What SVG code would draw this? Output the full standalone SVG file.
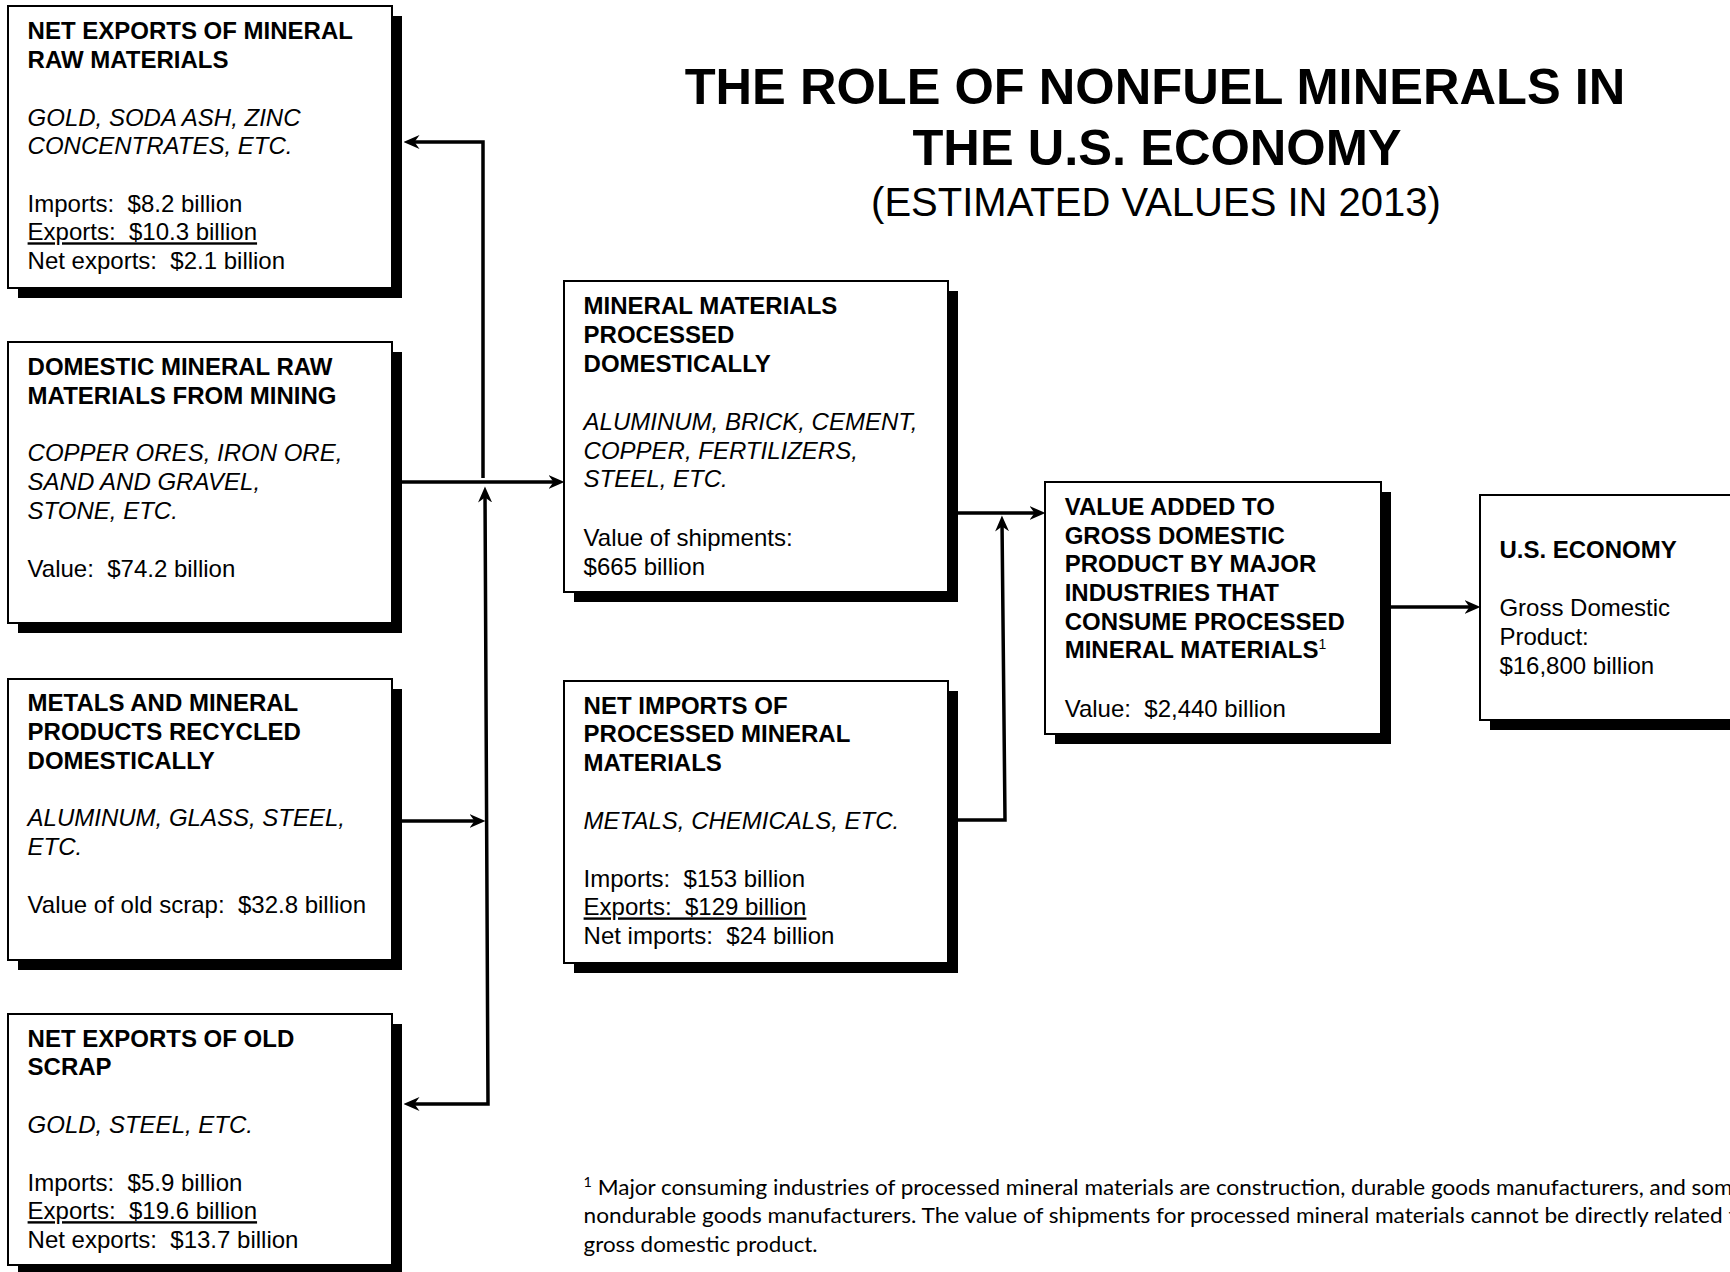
<svg xmlns="http://www.w3.org/2000/svg" width="1730" height="1272" viewBox="0 0 1730 1272">
<style>
  text { font-family: "Liberation Sans", Arial, sans-serif; font-size: 24px; fill: #000; white-space: pre; }
  .b { font-weight: bold; }
  .i { font-style: italic; }
  .u { text-decoration: underline; }
  .title { font-size: 50.6px; font-weight: bold; text-anchor: middle; }
  .sub { font-size: 40px; text-anchor: middle; }
  .sup { font-size: 14px; font-weight: normal; }
  .fn { font-family: Lato, "Noto Sans", sans-serif; font-size: 22px; }
  .shadow { fill: #000; }
  .box { fill: #fff; stroke: #000; stroke-width: 2; }
  .conn { fill: none; stroke: #000; stroke-width: 3.5; stroke-linejoin: miter; }
</style>
<defs>
  <marker id="ah" viewBox="0 0 16 14" refX="10.5" refY="7" markerWidth="16" markerHeight="14" markerUnits="userSpaceOnUse" orient="auto-start-reverse">
    <path d="M0,0 L16,7 L0,14 L5,7 z" fill="#000"/>
  </marker>
</defs>
<rect width="1730" height="1272" fill="#fff"/>

<g id="title">
  <text class="title" x="1155" y="104">THE ROLE OF NONFUEL MINERALS IN</text>
  <text class="title" x="1157" y="165">THE U.S. ECONOMY</text>
  <text class="sub" x="1156" y="216">(ESTIMATED VALUES IN 2013)</text>
</g>

<g id="connectors">
  <path class="conn" d="M402,482 H559" marker-end="url(#ah)"/>
  <path class="conn" d="M483,478 V142 H409" marker-end="url(#ah)"/>
  <path class="conn" d="M485,492 L488,1104 H409" marker-start="url(#ah)" marker-end="url(#ah)"/>
  <path class="conn" d="M402,821 H480" marker-end="url(#ah)"/>
  <path class="conn" d="M958,513 H1040" marker-end="url(#ah)"/>
  <path class="conn" d="M958,820 H1005 L1002,521" marker-end="url(#ah)"/>
  <path class="conn" d="M1391,607 H1475" marker-end="url(#ah)"/>
</g>

<g id="net-exports-raw">
  <rect class="shadow" x="18" y="16" width="384" height="282"/>
  <rect class="box" x="8" y="6" width="384" height="282"/>
  <text class="b" x="27.6" y="39.4">NET EXPORTS OF MINERAL</text>
  <text class="b" x="27.6" y="68.1">RAW MATERIALS</text>
  <text class="i" x="27.6" y="125.5">GOLD, SODA ASH, ZINC</text>
  <text class="i" x="27.6" y="154.2">CONCENTRATES, ETC.</text>
  <text x="27.6" y="211.6">Imports:  $8.2 billion</text>
  <text class="u" x="27.6" y="240.3">Exports:  $10.3 billion</text>
  <text x="27.6" y="269">Net exports:  $2.1 billion</text>
</g>

<g id="domestic-mining">
  <rect class="shadow" x="18" y="352" width="384" height="281"/>
  <rect class="box" x="8" y="342" width="384" height="281"/>
  <text class="b" x="27.6" y="375">DOMESTIC MINERAL RAW</text>
  <text class="b" x="27.6" y="403.7">MATERIALS FROM MINING</text>
  <text class="i" x="27.6" y="461.1">COPPER ORES, IRON ORE,</text>
  <text class="i" x="27.6" y="489.8">SAND AND GRAVEL,</text>
  <text class="i" x="27.6" y="518.5">STONE, ETC.</text>
  <text x="27.6" y="576.5">Value:  $74.2 billion</text>
</g>

<g id="recycled">
  <rect class="shadow" x="18" y="689" width="384" height="281"/>
  <rect class="box" x="8" y="679" width="384" height="281"/>
  <text class="b" x="27.6" y="711.3">METALS AND MINERAL</text>
  <text class="b" x="27.6" y="740">PRODUCTS RECYCLED</text>
  <text class="b" x="27.6" y="768.7">DOMESTICALLY</text>
  <text class="i" x="27.6" y="826.1">ALUMINUM, GLASS, STEEL,</text>
  <text class="i" x="27.6" y="854.8">ETC.</text>
  <text x="27.6" y="912.6">Value of old scrap:  $32.8 billion</text>
</g>

<g id="net-exports-scrap">
  <rect class="shadow" x="18" y="1024" width="384" height="251"/>
  <rect class="box" x="8" y="1014" width="384" height="251"/>
  <text class="b" x="27.6" y="1046.7">NET EXPORTS OF OLD</text>
  <text class="b" x="27.6" y="1075.4">SCRAP</text>
  <text class="i" x="27.6" y="1132.8">GOLD, STEEL, ETC.</text>
  <text x="27.6" y="1190.6">Imports:  $5.9 billion</text>
  <text class="u" x="27.6" y="1219.2">Exports:  $19.6 billion</text>
  <text x="27.6" y="1247.8">Net exports:  $13.7 billion</text>
</g>

<g id="processed-domestically">
  <rect class="shadow" x="574" y="291" width="384" height="311"/>
  <rect class="box" x="564" y="281" width="384" height="311"/>
  <text class="b" x="583.6" y="314.1">MINERAL MATERIALS</text>
  <text class="b" x="583.6" y="342.8">PROCESSED</text>
  <text class="b" x="583.6" y="371.5">DOMESTICALLY</text>
  <text class="i" x="583.6" y="430">ALUMINUM, BRICK, CEMENT,</text>
  <text class="i" x="583.6" y="458.6">COPPER, FERTILIZERS,</text>
  <text class="i" x="583.6" y="487.3">STEEL, ETC.</text>
  <text x="583.6" y="545.8">Value of shipments:</text>
  <text x="583.6" y="574.5">$665 billion</text>
</g>

<g id="net-imports-processed">
  <rect class="shadow" x="574" y="691" width="384" height="282"/>
  <rect class="box" x="564" y="681" width="384" height="282"/>
  <text class="b" x="583.6" y="713.5">NET IMPORTS OF</text>
  <text class="b" x="583.6" y="742.2">PROCESSED MINERAL</text>
  <text class="b" x="583.6" y="770.9">MATERIALS</text>
  <text class="i" x="583.6" y="829.4">METALS, CHEMICALS, ETC.</text>
  <text x="583.6" y="886.7">Imports:  $153 billion</text>
  <text class="u" x="583.6" y="915.4">Exports:  $129 billion</text>
  <text x="583.6" y="944.1">Net imports:  $24 billion</text>
</g>

<g id="value-added">
  <rect class="shadow" x="1055" y="492" width="336" height="252"/>
  <rect class="box" x="1045" y="482" width="336" height="252"/>
  <text class="b" x="1064.7" y="514.9">VALUE ADDED TO</text>
  <text class="b" x="1064.7" y="543.6">GROSS DOMESTIC</text>
  <text class="b" x="1064.7" y="572.3">PRODUCT BY MAJOR</text>
  <text class="b" x="1064.7" y="601">INDUSTRIES THAT</text>
  <text class="b" x="1064.7" y="629.7">CONSUME PROCESSED</text>
  <text class="b" x="1064.7" y="658.3">MINERAL MATERIALS<tspan class="sup" dy="-9">1</tspan></text>
  <text x="1064.7" y="716.8">Value:  $2,440 billion</text>
</g>

<g id="us-economy">
  <rect class="shadow" x="1490" y="505" width="260" height="225"/>
  <rect class="box" x="1480" y="495" width="260" height="225"/>
  <text class="b" x="1499.4" y="558">U.S. ECONOMY</text>
  <text x="1499.4" y="616.4">Gross Domestic</text>
  <text x="1499.4" y="645.1">Product:</text>
  <text x="1499.4" y="673.8">$16,800 billion</text>
</g>

<g id="footnote">
  <text class="fn" x="583.6" y="1194.6" textLength="1149" lengthAdjust="spacingAndGlyphs"><tspan font-size="14" dy="-8">1</tspan><tspan dy="8"> Major consuming industries of processed mineral materials are construction, durable goods manufacturers, and som</tspan></text>
  <text class="fn" x="583.6" y="1223.4" textLength="1153" lengthAdjust="spacingAndGlyphs">nondurable goods manufacturers. The value of shipments for processed mineral materials cannot be directly related t</text>
  <text class="fn" x="583.6" y="1252" textLength="234" lengthAdjust="spacingAndGlyphs">gross domestic product.</text>
</g>
</svg>
